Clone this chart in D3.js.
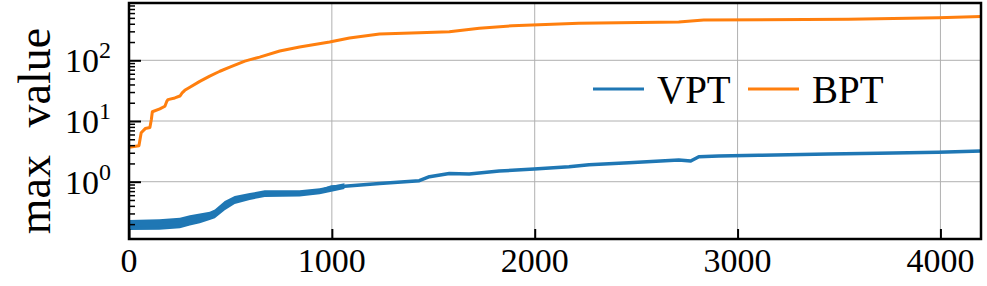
<!DOCTYPE html>
<html>
<head>
<meta charset="utf-8">
<script src="https://cdn.jsdelivr.net/npm/d3@7"></script>
<style>
  body { margin: 0; background: #fff; }
  svg { display: block; }
  svg text { font-family: "Liberation Serif", "Times New Roman", serif; fill: #000; }
</style>
</head>
<body>
<svg id="chart" width="987" height="286"></svg>
<script>
// series
const vptStep = [0, 150, 250, 300, 334, 398, 423, 472, 521, 595, 669, 841, 940, 999, 1062, 1235, 1431, 1481, 1579, 1677, 1825, 1997, 2169, 2268, 2464, 2710, 2769, 2809, 2907, 3104, 3448, 3694, 3989, 4200];
const vptValue = [0.195, 0.197, 0.21, 0.225, 0.265, 0.275, 0.30, 0.41, 0.51, 0.57, 0.64, 0.64, 0.70, 0.82, 0.84, 0.93, 1.04, 1.21, 1.37, 1.34, 1.50, 1.62, 1.77, 1.91, 2.06, 2.28, 2.19, 2.58, 2.65, 2.72, 2.86, 2.93, 3.05, 3.20];

// noisy spread of VPT in the early steps
const vptBandStep = [0, 150, 251, 300, 349, 398, 423, 472, 521, 595, 669, 841, 940, 1062];
const vptBandLow = [0.160, 0.162, 0.171, 0.19, 0.206, 0.234, 0.25, 0.34, 0.43, 0.50, 0.56, 0.57, 0.62, 0.76];
const vptBandHigh = [0.235, 0.24, 0.255, 0.28, 0.30, 0.32, 0.35, 0.48, 0.58, 0.65, 0.72, 0.72, 0.78, 0.94];

const bptStep = [0, 49, 60, 80, 103, 110, 115, 152, 177, 186, 192, 226, 251, 262, 275, 300, 349, 398, 448, 497, 571, 644, 743, 841, 989, 1087, 1235, 1431, 1579, 1727, 1889, 2218, 2710, 2833, 3546, 3989, 4200];
const bptValue = [3.7, 3.9, 6.4, 7.5, 7.8, 10.5, 14.2, 15.8, 17.5, 21, 22.5, 24, 25.8, 29, 32, 36, 45, 55, 66, 77, 97, 113, 142, 166, 200, 233, 272, 285, 296, 337, 371, 407, 428, 461, 473, 503, 525];

const xTicks = [0, 1000, 2000, 3000, 4000];
const yTicks = [1, 10, 100];
const yTickExp = ['0', '1', '2'];
const seriesNames = ['VPT', 'BPT'];

const blue = '#1f77b4', orange = '#ff7f0e';

const svg = d3.select('#chart');
const pLeft = 129, pRight = 981, pTop = 3, pBottom = 239;

const x = d3.scaleLinear().domain([0, 4200]).range([pLeft, pRight]);
const y = d3.scaleLog().domain([0.1138, 879]).range([pBottom, pTop]);

// grid
const grid = svg.append('g').attr('stroke', '#b0b0b0').attr('stroke-width', 1);
grid.selectAll('.gx').data(xTicks.slice(1)).enter().append('line')
  .attr('x1', d => x(d)).attr('x2', d => x(d))
  .attr('y1', pTop).attr('y2', pBottom);
grid.selectAll('.gy').data(yTicks).enter().append('line')
  .attr('x1', pLeft).attr('x2', pRight)
  .attr('y1', d => y(d)).attr('y2', d => y(d));

svg.append('clipPath').attr('id', 'plotclip')
  .append('rect').attr('x', pLeft).attr('y', pTop).attr('width', pRight - pLeft).attr('height', pBottom - pTop);

const plot = svg.append('g').attr('clip-path', 'url(#plotclip)');

// VPT noise band
const band = d3.area()
  .x((d, i) => x(vptBandStep[i]))
  .y0((d, i) => y(vptBandLow[i]))
  .y1((d, i) => y(vptBandHigh[i]));
plot.append('path')
  .datum(vptBandStep)
  .attr('d', band)
  .attr('fill', blue);

const lineGen = d3.line().x(d => x(d[0])).y(d => y(d[1]));

plot.append('path')
  .datum(vptStep.map((s, i) => [s, vptValue[i]]))
  .attr('d', lineGen)
  .attr('fill', 'none')
  .attr('stroke', blue)
  .attr('stroke-width', 3.5)
  .attr('stroke-linejoin', 'round');

plot.append('path')
  .datum(bptStep.map((s, i) => [s, bptValue[i]]))
  .attr('d', lineGen)
  .attr('fill', 'none')
  .attr('stroke', orange)
  .attr('stroke-width', 3)
  .attr('stroke-linejoin', 'round');

// axes: ticks from d3, labels drawn separately
const gx = svg.append('g').attr('transform', `translate(0,${pBottom})`)
  .call(d3.axisBottom(x).tickValues(xTicks).tickSize(-10).tickFormat(''));
gx.select('.domain').remove();
gx.selectAll('text').remove();
gx.selectAll('line').attr('stroke', '#000').attr('stroke-width', 2);

svg.append('g').selectAll('text').data(xTicks).enter().append('text')
  .attr('x', d => x(d))
  .attr('y', 272)
  .attr('text-anchor', 'middle')
  .style('font-size', '34px')
  .text(d => d);

const minors = [];
[0.1, 1, 10, 100].forEach(b => {
  for (let k = 2; k <= 9; k++) {
    const v = b * k;
    if (v > y.domain()[0] && v < y.domain()[1]) minors.push(v);
  }
});
const gyMinor = svg.append('g').attr('transform', `translate(${pLeft},0)`)
  .call(d3.axisLeft(y).tickValues(minors).tickSize(-6).tickFormat(''));
gyMinor.select('.domain').remove();
gyMinor.selectAll('text').remove();
gyMinor.selectAll('line').attr('stroke', '#000').attr('stroke-width', 1.5);

const gy = svg.append('g').attr('transform', `translate(${pLeft},0)`)
  .call(d3.axisLeft(y).tickValues(yTicks).tickSize(-12).tickFormat(''));
gy.select('.domain').remove();
gy.selectAll('text').remove();
gy.selectAll('line').attr('stroke', '#000').attr('stroke-width', 2);

const yLab = svg.append('g').selectAll('text').data(yTicks).enter().append('text')
  .attr('x', 111)
  .attr('y', d => y(d) + 12)
  .attr('text-anchor', 'end')
  .style('font-size', '34px');
yLab.append('tspan').text('10');
yLab.append('tspan').style('font-size', '24px').attr('dy', -14).text((d, i) => yTickExp[i]);

// frame
svg.append('rect')
  .attr('x', pLeft).attr('y', pTop)
  .attr('width', pRight - pLeft).attr('height', pBottom - pTop)
  .attr('fill', 'none').attr('stroke', '#000').attr('stroke-width', 2.5);

// y label
svg.append('text')
  .attr('transform', 'translate(50,131) rotate(-90)')
  .attr('text-anchor', 'middle')
  .style('font-size', '46px')
  .attr('word-spacing', 16)
  .text('max value');

// legend
const legend = svg.append('g');
const legendX = [593, 748];
[blue, orange].forEach((c, i) => {
  legend.append('line')
    .attr('x1', legendX[i]).attr('x2', legendX[i] + 51)
    .attr('y1', 89).attr('y2', 89)
    .attr('stroke', c).attr('stroke-width', 3);
  legend.append('text')
    .attr('x', legendX[i] + 64).attr('y', 103)
    .style('font-size', '39px')
    .text(seriesNames[i]);
});
</script>
</body>
</html>
